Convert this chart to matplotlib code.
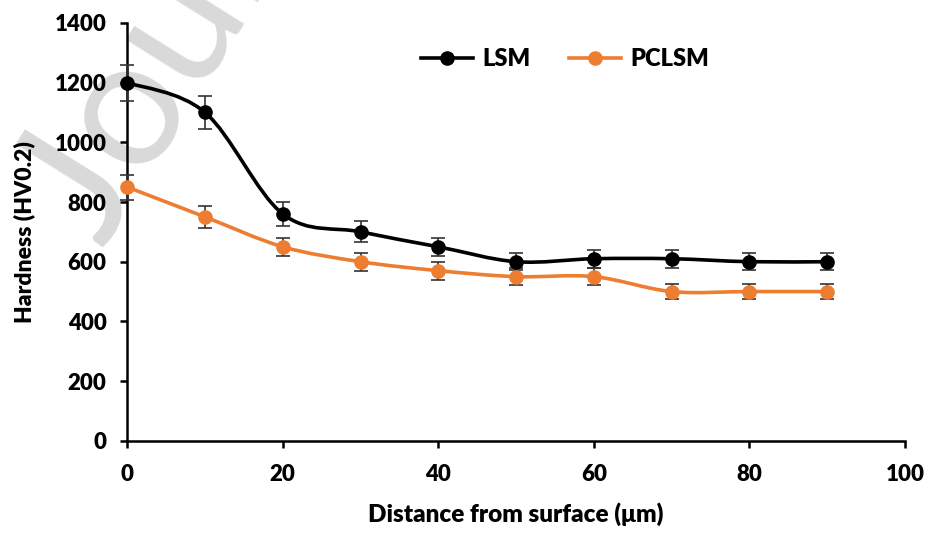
import matplotlib
matplotlib.use("Agg")
import matplotlib.pyplot as plt
from matplotlib.path import Path
from matplotlib.patches import PathPatch
import numpy as np

# data
distance = [0, 10, 20, 30, 40, 50, 60, 70, 80, 90]
lsm = [1200, 1100, 760, 700, 650, 600, 610, 610, 600, 600]
lsm_err = [60, 55, 40, 35, 30, 28, 30, 30, 28, 28]
pclsm = [850, 750, 650, 600, 570, 550, 550, 500, 500, 500]
pclsm_err = [42, 38, 30, 30, 30, 28, 28, 25, 25, 25]

BLACK = "#000000"
ORANGE = "#ED7D31"

plt.rcParams["font.family"] = ["Lato", "DejaVu Sans"]
plt.rcParams["font.weight"] = "heavy"


# Excel-like smoothed line: cubic bezier through the points
def smooth_path(xs, ys):
    pts = np.column_stack([xs, ys]).astype(float)
    n = len(pts)
    verts = [pts[0]]
    codes = [Path.MOVETO]
    for i in range(n - 1):
        p0 = pts[max(i - 1, 0)]
        p1 = pts[i]
        p2 = pts[i + 1]
        p3 = pts[min(i + 2, n - 1)]
        verts += [p1 + (p2 - p0) / 6, p2 - (p3 - p1) / 6, p2]
        codes += [Path.CURVE4] * 3
    return Path(verts, codes)


fig = plt.figure(figsize=(9.29, 5.33), dpi=100)
ax = fig.add_axes([0.137, 0.173, 0.837, 0.784])
ax.patch.set_alpha(0)
ax.set_zorder(1)

# watermark (behind everything)
fig.text(-0.01, 0.50, "Journal Pre-proof", fontsize=130, color="#d9d9d9",
         rotation=58, fontweight="normal", zorder=0, ha="left", va="bottom",
         family=["Lato", "DejaVu Sans"])

for ys, err, col, name in [(lsm, lsm_err, BLACK, "LSM"),
                           (pclsm, pclsm_err, ORANGE, "PCLSM")]:
    ax.add_patch(PathPatch(smooth_path(distance, ys), fill=False,
                           edgecolor=col, lw=2.6, zorder=3))
    ax.errorbar(distance, ys, yerr=err, fmt="none", ecolor="#333333",
                elinewidth=1.2, capsize=5, capthick=1.2, zorder=4,
                clip_on=False)
    ax.plot(distance, ys, "o", color=col, ms=9.5, zorder=5, clip_on=False)
    ax.plot([], [], "-o", color=col, lw=2.6, ms=9.5, label=name)

ax.set_xlim(0, 100)
ax.set_ylim(0, 1400)
ax.set_xticks(range(0, 101, 20))
ax.set_yticks(range(0, 1401, 200))

for s in ["top", "right"]:
    ax.spines[s].set_visible(False)
for s in ["left", "bottom"]:
    ax.spines[s].set_linewidth(1.8)
ax.tick_params(width=1.8, length=5, labelsize=16, direction="out")
ax.tick_params(axis="x", pad=12)
ax.tick_params(axis="y", pad=10)
for lab in ax.get_xticklabels() + ax.get_yticklabels():
    lab.set_fontweight("heavy")

ax.set_xlabel("Distance from surface (\u03bcm)", fontsize=17.5,
              fontweight="heavy", labelpad=12)
ax.set_ylabel("Hardness (HV0.2)", fontsize=16.5, fontweight="heavy",
              labelpad=14)

ax.legend(loc="upper center", bbox_to_anchor=(0.563, 0.99), ncol=2,
          frameon=False, handlelength=2.2, handletextpad=0.4,
          columnspacing=1.6, prop={"weight": "heavy", "size": 17})

fig.savefig("out.png", dpi=100)
